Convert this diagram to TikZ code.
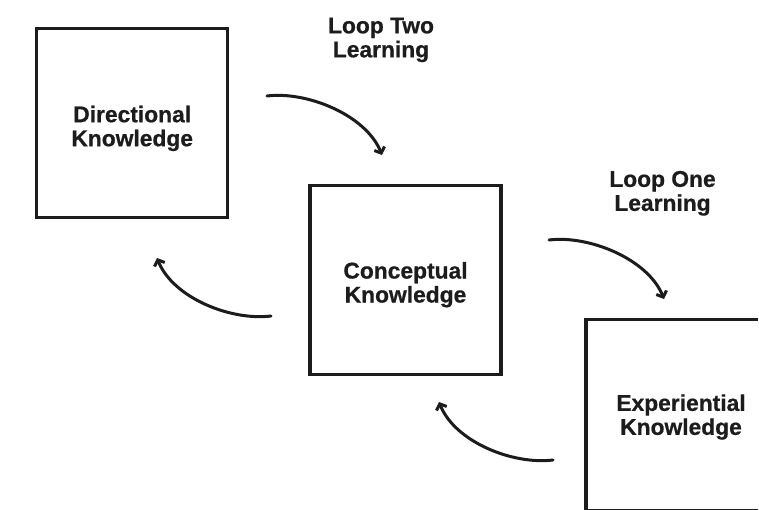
\documentclass[tikz,border=0pt]{standalone}
\usepackage{fontspec}
\setmainfont{Liberation Sans}[BoldFeatures={FakeBold=0.6}]
\usetikzlibrary{arrows.meta}
\definecolor{ink}{HTML}{1C1C1C}
\tikzset{
  kbox/.style={draw=ink, line width=3.5pt, minimum width=191pt, minimum height=189pt, inner sep=0pt, fill=white},
  openbox/.style={draw=none, minimum width=191pt, minimum height=191.5pt, inner sep=0pt},
  boxline/.style={draw=ink, line width=3.5pt, line join=miter},
  lbl/.style={text=ink, align=center, inner sep=0pt, font=\fontsize{22.8}{24}\selectfont\bfseries},
  curvearrow/.style={draw=ink, line width=3pt, line cap=round, line join=round, -{Straight Barb[length=5pt,width=11pt]}}
}
\begin{document}
\begin{tikzpicture}[x=1pt,y=-1pt]
\useasboundingbox (0,0) rectangle (759,510);
\fill[white] (-6,-6) rectangle (765,516);
% boxes
\node[kbox] (dir) at (132.2,122.9) {};
\node[kbox] (con) at (405.7,280) {};
\node[openbox] (exp) at (681.5,415.2) {};
\coordinate (expne) at (exp.north east -| 757.5,0);
\coordinate (expse) at (exp.south east -| 757.5,0);
\draw[boxline] (expne) -- (exp.north west) -- (exp.south west) -- (expse);
% box texts
\node[lbl] (dirtext) at (132.2,128.4) {Directional\\Knowledge};
\node[lbl] (context) at (405.5,284.7) {Conceptual\\Knowledge};
\node[lbl] (exptext) at (681,417) {Experiential\\Knowledge};
% loop labels
\node[lbl] (looptwo) at (381,39.9) {Loop Two\\Learning};
\node[lbl] (loopone) at (662.5,193.3) {Loop One\\Learning};
% arrow end points
\coordinate (a1s) at (267,96);
\coordinate (a1e) at (382,155);
\coordinate (a2s) at (549,240);
\coordinate (a2e) at (664,299);
\coordinate (a3s) at (271,316);
\coordinate (a3e) at (157,258);
\coordinate (a4s) at (553,460);
\coordinate (a4e) at (439,402);
% arrows
\draw[curvearrow] (a1s) .. controls +(40,-5) and +(-16,-40) .. (a1e);
\draw[curvearrow] (a2s) .. controls +(40,-5) and +(-16,-40) .. (a2e);
\draw[curvearrow] (a3s) .. controls +(-40,5) and +(16,40) .. (a3e);
\draw[curvearrow] (a4s) .. controls +(-40,5) and +(16,40) .. (a4e);
\end{tikzpicture}
\end{document}
